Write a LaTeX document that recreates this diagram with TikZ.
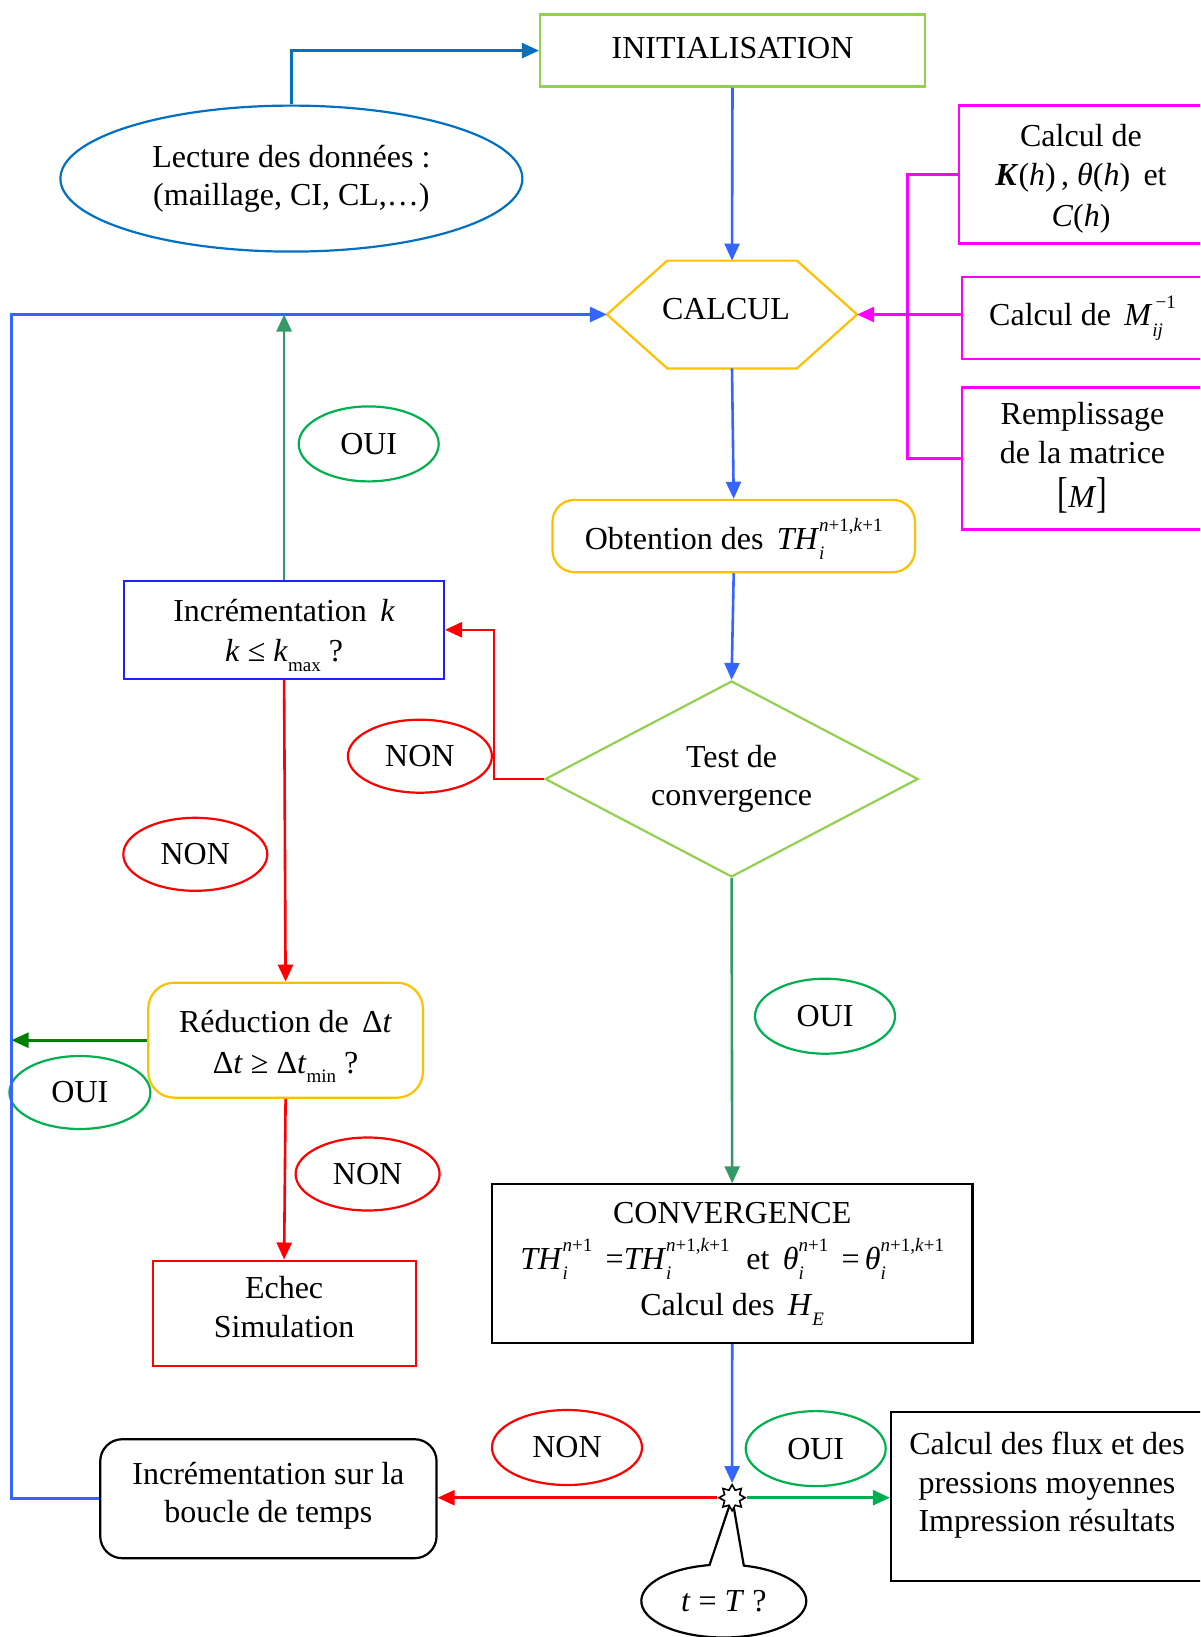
\documentclass[tikz,border=0pt]{standalone}
\usepackage{fontspec}
\setmainfont{Liberation Serif}
\usepackage{graphicx}
\usetikzlibrary{shapes.geometric,shapes.callouts,arrows.meta}
\definecolor{cBlue}{HTML}{3366FF}
\definecolor{cDBlue}{HTML}{0070C0}
\definecolor{cPure}{HTML}{1F1FFF}
\definecolor{cYel}{HTML}{FFC000}
\definecolor{cLGreen}{HTML}{92D050}
\definecolor{cGreen}{HTML}{00B050}
\definecolor{cSea}{HTML}{339966}
\definecolor{cDGreen}{HTML}{008000}
\definecolor{cMag}{HTML}{FF00FF}
\definecolor{cRed}{HTML}{FF0000}
\newcommand\SubSup[2]{\makebox[0pt][l]{\raisebox{-0.32em}{\fontsize{19}{19}\selectfont #1}}\raisebox{0.55em}{\fontsize{19}{19}\selectfont #2}}
\newcommand\Sub[1]{\raisebox{-0.3em}{\fontsize{19}{19}\selectfont #1}}
\newcommand\Up[2]{\raisebox{#1}[\height][\depth]{#2}}
\begin{document}
\begin{tikzpicture}[x=1pt,y=-1pt,
  font=\fontsize{32}{38.5}\selectfont,
  line width=2.2pt,
  arr/.style={line width=2.6pt,-{Triangle[length=17pt,width=15pt]}},
  box/.style={rectangle,draw,align=center,inner sep=0pt},
  rbox/.style={rectangle,rounded corners=22pt,draw,align=center,inner sep=0pt},
  lab/.style={ellipse,draw,inner sep=0pt}]
\useasboundingbox (0,0) rectangle (1200,1637);
\clip (0,0) rectangle (1200,1637);

% main nodes
\node[box,draw=cLGreen,minimum width=385,minimum height=72] (init) at (732.5,50.6) {\Up{3pt}{INITIALISATION}};
\node[ellipse,draw=cDBlue,align=center,minimum width=462,minimum height=146,inner sep=0pt] (lect) at (291.4,178.6) {Lecture des données :\\(maillage, CI, CL,\ldots)};
\node[rectangle,minimum width=248,minimum height=105.6,inner sep=0pt] (calc) at (732,314.5) {\makebox[0pt]{\Up{5pt}{CALCUL}\hspace{12pt}}};
\draw[cYel] (calc.west) -- ([xshift=60.4pt]calc.north west) -- ([xshift=-60.2pt]calc.north east) -- (calc.east)
  -- ([xshift=-60.2pt]calc.south east) -- ([xshift=60.4pt]calc.south west) -- cycle;

\node[box,draw=cMag,minimum width=244,minimum height=138] (box1) at (1081,174.5)
  {\Up{-4pt}{\begin{tabular}{@{}c@{}}Calcul de\\[1pt]\textbf{\textit{K}}(\textit{h})\,, \textit{θ}(\textit{h})\, et\\[2pt]\textit{C}(\textit{h})\end{tabular}}};
\node[box,draw=cMag,minimum width=241,minimum height=82.5] (box2) at (1082.5,318)
  {Calcul de\, \textit{M}\SubSup{\textit{ij}}{\,−1}};
\node[box,draw=cMag,minimum width=241,minimum height=142] (box3) at (1082.5,458.5)
  {\begin{tabular}{@{}c@{}}Remplissage\\de la matrice\\[3pt]\scalebox{1}[1.35]{[}\textit{M}\scalebox{1}[1.35]{]}\end{tabular}};

\node[rbox,draw=cYel,minimum width=362.5,minimum height=72.3] (obt) at (733.7,536)
  {\Up{-3pt}{Obtention des\, \textit{TH}\SubSup{\textit{i}}{\textit{n}+1,\textit{k}+1}}};
\node[diamond,draw=cLGreen,aspect=1.9,minimum width=373,minimum height=196,inner sep=0pt,align=center] (test) at (731.6,779)
  {Test de\\convergence};

\node[box,draw=cPure,minimum width=319.6,minimum height=98.2] (incrk) at (284.1,629.8)
  {\Up{-4pt}{\begin{tabular}{@{}c@{}}Incrémentation\, \textit{k}\\[2pt]\textit{k} ≤ \textit{k}\Sub{max} ?\end{tabular}}};
\node[rbox,draw=cYel,rounded corners=26pt,minimum width=274.7,minimum height=115] (reduc) at (285.6,1040.2)
  {\Up{-5pt}{\begin{tabular}{@{}c@{}}Réduction de\, Δ\textit{t}\\[2pt]Δ\textit{t} ≥ Δ\textit{t}\Sub{min} ?\end{tabular}}};
\node[box,draw=cRed,minimum width=263,minimum height=105.4] (echec) at (284.1,1313.3)
  {\Up{3pt}{\begin{tabular}{@{}c@{}}Echec\\Simulation\end{tabular}}};
\node[box,draw=black,minimum width=480.4,minimum height=158.7,font=\fontsize{32}{46}\selectfont] (conv) at (732.2,1263.7)
  {CONVERGENCE\\\textit{TH}\SubSup{\textit{i}}{\textit{n}+1}\, =\textit{TH}\SubSup{\textit{i}}{\textit{n}+1,\textit{k}+1}\; et\, \textit{θ}\SubSup{\textit{i}}{\textit{n}+1}\, =\,\textit{θ}\SubSup{\textit{i}}{\textit{n}+1,\textit{k}+1}\\Calcul des\, \textit{H}\Sub{\textit{E}}};
\node[box,draw=black,minimum width=312,minimum height=169] (flux) at (1047,1496.5)
  {\Up{11pt}{\begin{tabular}{@{}c@{}}Calcul des flux et des\\pressions moyennes\\Impression résultats\end{tabular}}};
\node[rbox,draw=black,minimum width=336.3,minimum height=119] (boucle) at (268.4,1498.7)
  {\Up{3pt}{\begin{tabular}{@{}c@{}}Incrémentation sur la\\boucle de temps\end{tabular}}};

\coordinate (sp) at (732.1,1497.7);
\node[ellipse callout,draw=black,fill=white,minimum width=165,minimum height=73,inner sep=0pt,
  callout absolute pointer={(sp)},callout pointer arc=24] (tT) at (723.8,1601)
  {\textit{t} = \textit{T} ?};
\node[star,star points=8,star point ratio=1.6,minimum size=26pt,inner sep=0pt,draw=black,fill=white,line width=1.6pt] (star) at (sp) {};

% label ellipses
\node[lab,draw=cGreen,minimum width=140,minimum height=75] (oui1) at (368.7,443.9) {OUI};
\node[lab,draw=cRed,minimum width=144,minimum height=73] (non1) at (419.9,756.2) {NON};
\node[lab,draw=cRed,minimum width=144,minimum height=73] (non2) at (195.3,854.3) {NON};
\node[lab,draw=cGreen,minimum width=140,minimum height=75] (oui2) at (825,1016.2) {OUI};
\node[lab,draw=cGreen,minimum width=141,minimum height=73] (oui3) at (79.9,1092.5) {OUI};
\node[lab,draw=cRed,minimum width=144,minimum height=73] (non3) at (367.6,1174) {NON};
\node[lab,draw=cRed,minimum width=150,minimum height=75] (non4) at (567,1447.5) {NON};
\node[lab,draw=cGreen,minimum width=140,minimum height=75] (oui4) at (815.7,1448.6) {OUI};

% helper coordinates
\coordinate (loopx) at (11.5,0);
\coordinate (bus) at (907.6,458.5);
\coordinate (nk) at (494,700);

% connectors
\draw[arr,cDBlue] (lect.north) |- (init.west);
\draw[arr,cBlue] (init.south) -- (calc.north);
\draw[cMag,line width=2.6pt] (box1.west) -| (bus) -- (box3.west);
\draw[arr,cMag] (box2.west |- calc.east) -- (calc.east);
\draw[arr,cBlue] (calc.south) -- (obt.north);
\draw[arr,cBlue] (obt.south) -- (test.north);
\draw[arr,cRed] (test.west) -| (nk) |- (incrk.east);
\draw[arr,cSea] (incrk.north) -- (incrk.north |- calc.west);
\draw[arr,cRed] (incrk.south) -- (reduc.north);
\draw[arr,cDGreen] (reduc.west) -- (reduc.west -| loopx);
\draw[arr,cRed] (reduc.south) -- (echec.north);
\draw[arr,cSea] (test.south) -- (conv.north);
\draw[arr,cBlue] (conv.south) -- (star.north);
\draw[arr,cRed] (star.west) -- (star.west -| boucle.east);
\draw[arr,cGreen] (star.east) -- (star.east -| flux.west);
\draw[arr,cBlue] (boucle.west) -- (boucle.west -| loopx) |- (calc.west);
\end{tikzpicture}
\end{document}
